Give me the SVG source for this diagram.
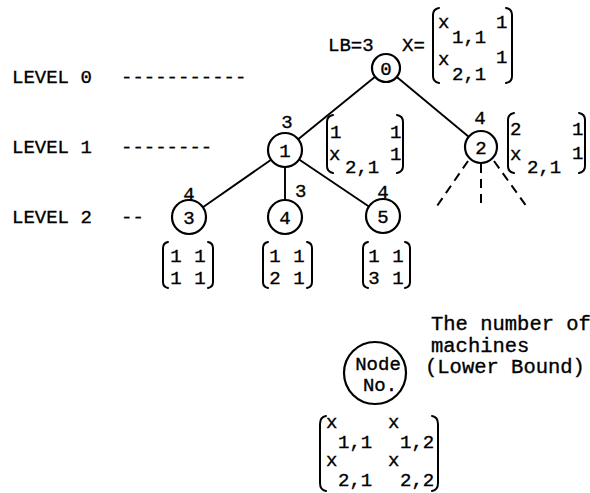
<svg xmlns="http://www.w3.org/2000/svg" width="590" height="493" viewBox="0 0 590 493">
  <style>
    text { font-family: "Liberation Mono", "Courier New", monospace; font-size: 19px; fill: #000; stroke: #000; stroke-width: 0.35px; }
    .c { text-anchor: middle; }
    .big { font-size: 20.5px; }
    .node { fill: #fff; stroke: #000; stroke-width: 2.2; }
    .edge { stroke: #000; stroke-width: 1.9; fill: none; }
    .dash { stroke: #000; stroke-width: 2; fill: none; stroke-dasharray: 9 6; }
    .br { stroke: #000; stroke-width: 2; fill: none; stroke-linecap: round; }
  </style>

  <!-- level captions -->
  <g id="levels">
    <text x="12" y="83">LEVEL 0</text>
    <text x="121" y="83">-----------</text>
    <text x="12" y="153">LEVEL 1</text>
    <text x="121" y="153">--------</text>
    <text x="12" y="223">LEVEL 2</text>
    <text x="121" y="223">--</text>
  </g>

  <!-- connectors -->
  <g id="edges">
    <line class="edge" x1="375.1" y1="76.8" x2="298.2" y2="139.3"/>
    <line class="edge" x1="396.8" y1="76.9" x2="468.7" y2="136.8"/>
    <line class="edge" x1="271.1" y1="159.7" x2="202.9" y2="207.3"/>
    <line class="edge" x1="285" y1="167" x2="285" y2="200"/>
    <line class="edge" x1="299.1" y1="159.5" x2="368.9" y2="206.5"/>
    <line class="dash" x1="468" y1="161" x2="437" y2="206"/>
    <line class="dash" x1="481" y1="164" x2="481" y2="206"/>
    <line class="dash" x1="494" y1="161" x2="527" y2="207"/>
  </g>

  <!-- node 0 -->
  <g id="node0">
    <circle class="node" cx="386" cy="68" r="14"/>
    <text class="c" x="386" y="75">0</text>
    <text x="328" y="51">LB=3</text>
    <text x="402" y="51">X=</text>
    <path class="br" d="M439,8 Q433,9 433,15 L433,76 Q433,82 439,83"/>
    <path class="br" d="M506,8 Q512,9 512,15 L512,76 Q512,82 506,83"/>
    <text x="438" y="28">x</text>
    <text x="452" y="43">1,1</text>
    <text x="496" y="28">1</text>
    <text x="438" y="65">x</text>
    <text x="452" y="80">2,1</text>
    <text x="496" y="63">1</text>
  </g>

  <!-- node 1 -->
  <g id="node1">
    <circle class="node" cx="285" cy="150" r="17"/>
    <text class="c" x="285" y="157">1</text>
    <text class="c" x="287" y="128">3</text>
    <path class="br" d="M333,115 Q327,116 327,122 L327,166 Q327,172 333,173"/>
    <path class="br" d="M397,115 Q403,116 403,122 L403,166 Q403,172 397,173"/>
    <text x="330" y="138">1</text>
    <text x="390" y="138">1</text>
    <text x="329" y="160">x</text>
    <text x="345" y="173">2,1</text>
    <text x="390" y="160">1</text>
  </g>

  <!-- node 2 -->
  <g id="node2">
    <circle class="node" cx="481" cy="147" r="16"/>
    <text class="c" x="481" y="154">2</text>
    <text class="c" x="480" y="124">4</text>
    <path class="br" d="M514,113 Q508,114 508,120 L508,166 Q508,172 514,173"/>
    <path class="br" d="M579,113 Q585,114 585,120 L585,166 Q585,172 579,173"/>
    <text x="510" y="135">2</text>
    <text x="572" y="135">1</text>
    <text x="510" y="160">x</text>
    <text x="527" y="173">2,1</text>
    <text x="572" y="159">1</text>
  </g>

  <!-- node 3 -->
  <g id="node3">
    <circle class="node" cx="189" cy="217" r="17"/>
    <text class="c" x="189" y="224">3</text>
    <text class="c" x="189" y="200">4</text>
    <path class="br" d="M168,242 Q163,243 163,248 L163,282 Q163,287 168,288"/>
    <path class="br" d="M208,242 Q213,243 213,248 L213,282 Q213,287 208,288"/>
    <text class="c" x="176" y="262">1</text>
    <text class="c" x="200" y="262">1</text>
    <text class="c" x="176" y="284">1</text>
    <text class="c" x="200" y="284">1</text>
  </g>

  <!-- node 4 -->
  <g id="node4">
    <circle class="node" cx="285" cy="217" r="17"/>
    <text class="c" x="285" y="224">4</text>
    <text x="295" y="197">3</text>
    <path class="br" d="M268,242 Q263,243 263,248 L263,282 Q263,287 268,288"/>
    <path class="br" d="M307,242 Q312,243 312,248 L312,282 Q312,287 307,288"/>
    <text class="c" x="275" y="262">1</text>
    <text class="c" x="299" y="262">1</text>
    <text class="c" x="275" y="284">2</text>
    <text class="c" x="299" y="284">1</text>
  </g>

  <!-- node 5 -->
  <g id="node5">
    <circle class="node" cx="383" cy="216" r="17"/>
    <text class="c" x="383" y="223">5</text>
    <text class="c" x="383" y="198">4</text>
    <path class="br" d="M368,242 Q363,243 363,248 L363,282 Q363,287 368,288"/>
    <path class="br" d="M405,242 Q410,243 410,248 L410,282 Q410,287 405,288"/>
    <text class="c" x="374" y="262">1</text>
    <text class="c" x="398" y="262">1</text>
    <text class="c" x="374" y="284">3</text>
    <text class="c" x="398" y="284">1</text>
  </g>

  <!-- legend -->
  <g id="legend">
    <circle class="node" cx="375" cy="373" r="31"/>
    <text class="c" x="378" y="370">Node</text>
    <text class="c" x="380" y="391">No.</text>
    <text class="big" x="431" y="330">The number of</text>
    <text class="big" x="431" y="352">machines</text>
    <text class="big" x="425" y="373">(Lower Bound)</text>
    <path class="br" d="M326,416 Q320,417 320,424 L320,483 Q320,490 326,491"/>
    <path class="br" d="M432,416 Q438,417 438,424 L438,483 Q438,490 432,491"/>
    <text x="326" y="428">x</text>
    <text x="338" y="448">1,1</text>
    <text x="388" y="428">x</text>
    <text x="400" y="448">1,2</text>
    <text x="326" y="466">x</text>
    <text x="338" y="486">2,1</text>
    <text x="388" y="466">x</text>
    <text x="400" y="486">2,2</text>
  </g>
</svg>
